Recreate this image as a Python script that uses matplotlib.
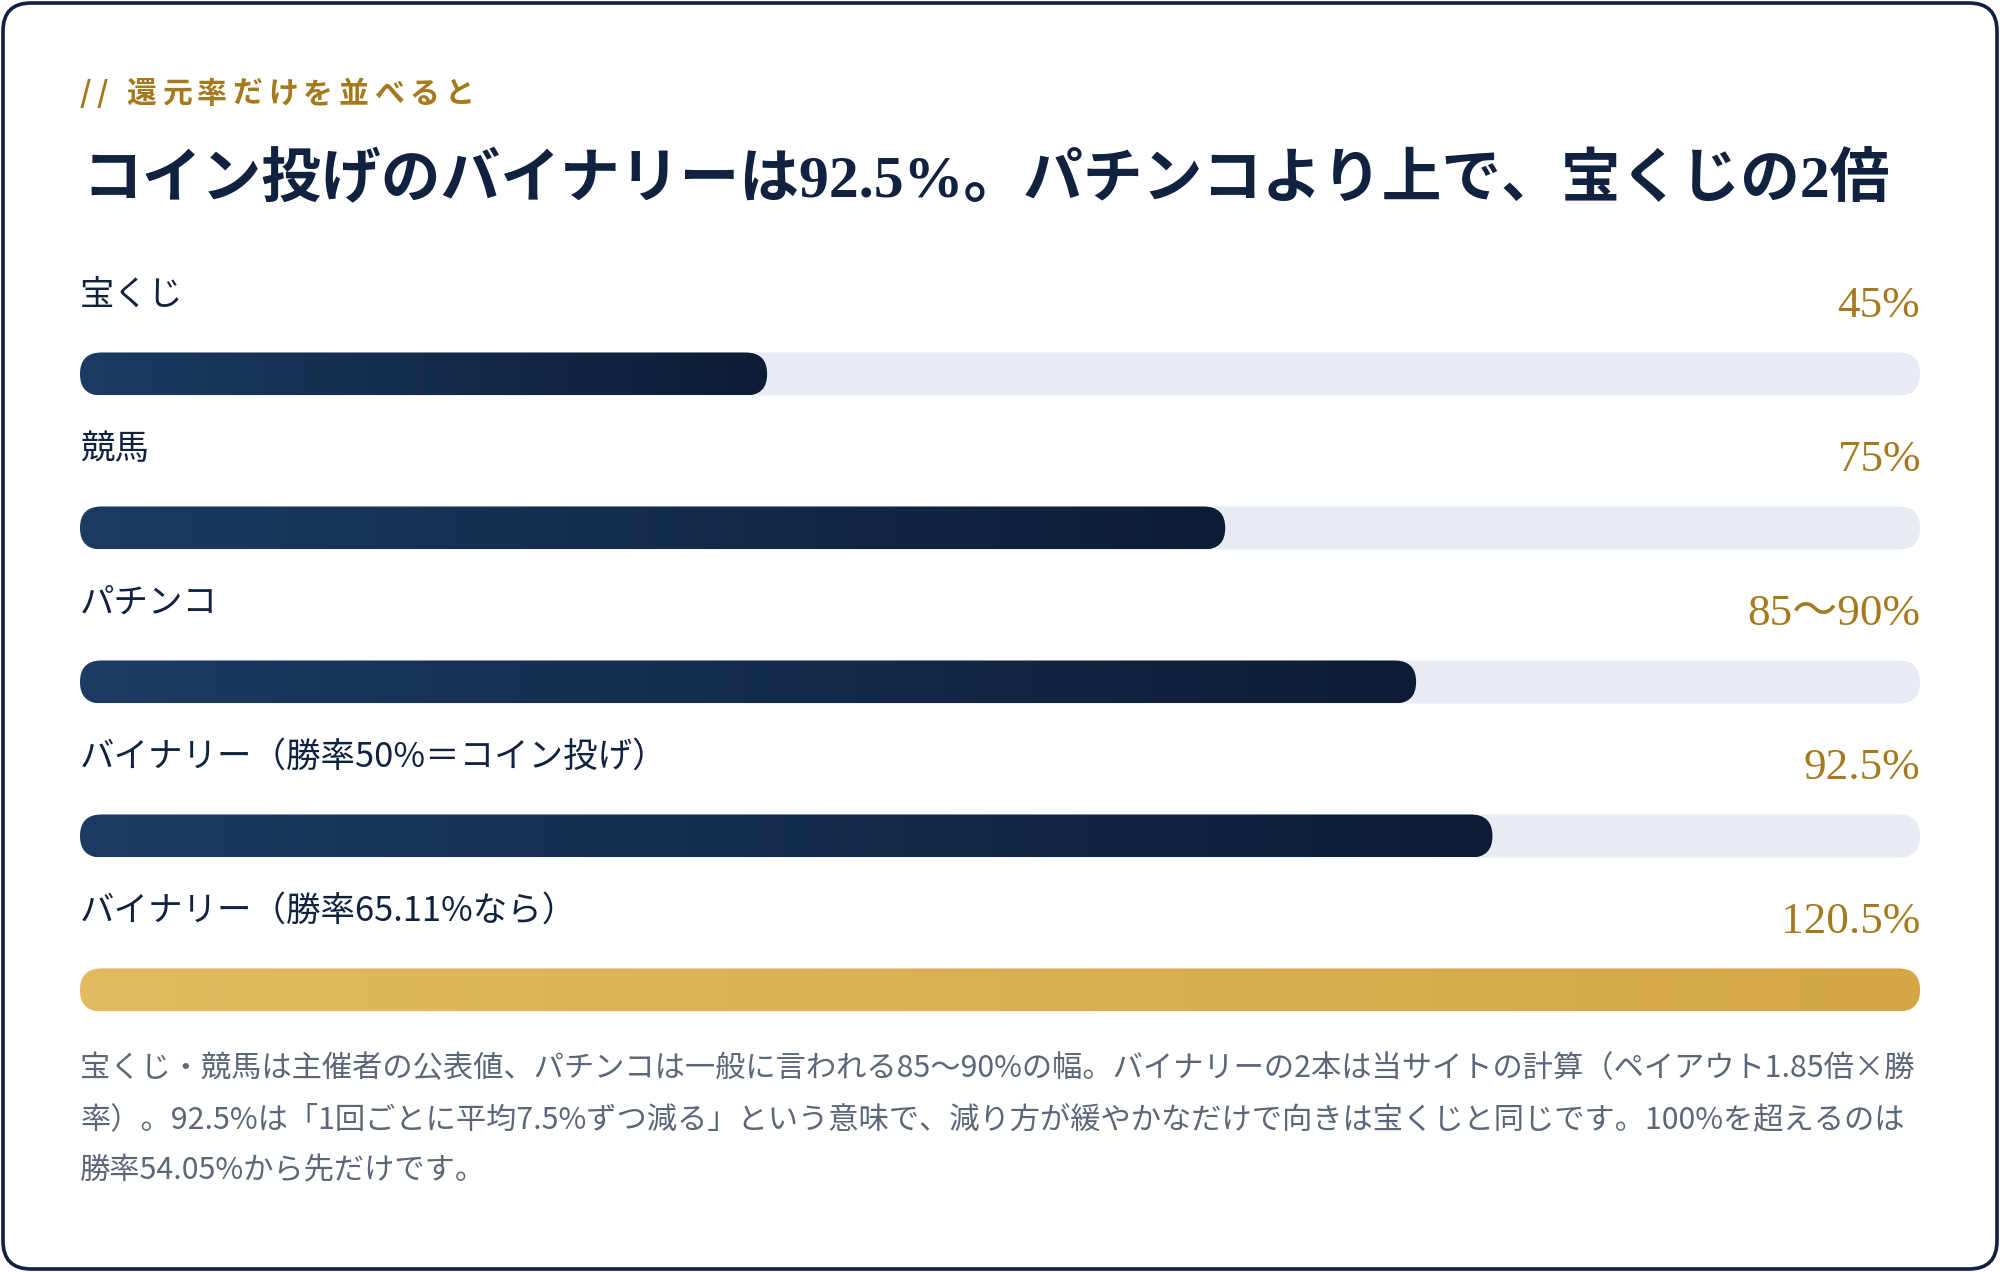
import numpy as np
import matplotlib
matplotlib.use("Agg")
import matplotlib.pyplot as plt
from matplotlib.patches import FancyBboxPatch
from matplotlib.colors import LinearSegmentedColormap

# data
labels = ["宝くじ", "競馬", "パチンコ", "バイナリー（勝率50%＝コイン投げ）", "バイナリー（勝率65.11%なら）"]
values = [45, 75, 87.5, 92.5, 120.5]
value_text = ["45%", "75%", "85～90%", "92.5%", "120.5%"]
highlight = [False, False, False, False, True]
scale_max = 120.5

kicker = "// 還元率だけを並べると"
title = "コイン投げのバイナリーは92.5%。パチンコより上で、宝くじの2倍"
note_lines = [
    "宝くじ・競馬は主催者の公表値、パチンコは一般に言われる85～90%の幅。バイナリーの2本は当サイトの計算（ペイアウト1.85倍×勝",
    "率）。92.5%は「1回ごとに平均7.5%ずつ減る」という意味で、減り方が緩やかなだけで向きは宝くじと同じです。100%を超えるのは",
    "勝率54.05%から先だけです。",
]

NAVY = "#10223f"
GOLD_TXT = "#a57a1f"
TRACK = "#e8ebf3"
sans = ["Noto Sans CJK JP", "DejaVu Sans"]
serif = ["Liberation Serif", "Noto Sans CJK JP"]

W, H = 2000, 1272
fig = plt.figure(figsize=(W / 100, H / 100), dpi=100)
fig.patch.set_facecolor("white")

# background axes in pixel units
ax = fig.add_axes([0, 0, 1, 1])
ax.set_xlim(0, W)
ax.set_ylim(H, 0)
ax.axis("off")

card = FancyBboxPatch((3, 3), W - 6, H - 6, boxstyle="round,pad=0,rounding_size=28",
                      fc="white", ec=NAVY, lw=2.6)
ax.add_patch(card)

# kicker with letter spacing, char by char
renderer = fig.canvas.get_renderer()
x = 80
for ch in kicker:
    t = ax.text(x, 94, ch, fontsize=21.5, fontweight="bold", color=GOLD_TXT,
                family=sans, va="center", ha="left")
    wpx = t.get_window_extent(renderer).width
    x += wpx + 5.5

ax.text(82, 182, title, fontsize=43, fontweight="bold", color=NAVY,
        family=serif, va="center", ha="left")

# bar axes: x in value units, y in pixels
left_px, track_px = 80, 1840
bx = fig.add_axes([left_px / W, 0, track_px / W, 1])
bx.set_xlim(0, scale_max)
bx.set_ylim(H, 0)
bx.axis("off")

row0, row_step = 374, 154
bar_h = 43
r_px = bar_h / 2
r_x = r_px * scale_max / track_px
aspect = track_px / scale_max

navy_cmap = LinearSegmentedColormap.from_list("navy", ["#1b3b62", "#0d1c35"])
gold_cmap = LinearSegmentedColormap.from_list("gold", ["#e3ba5f", "#d4a644"])
grad = np.linspace(0, 1, 256).reshape(1, -1)

for i, (lab, v, vt, hl) in enumerate(zip(labels, values, value_text, highlight)):
    yc = row0 + i * row_step
    y0 = yc - bar_h / 2
    track = FancyBboxPatch((0, y0), scale_max, bar_h,
                           boxstyle=f"round,pad=0,rounding_size={r_x}",
                           mutation_aspect=aspect, fc=TRACK, ec="none", zorder=1)
    bx.add_patch(track)
    bar = FancyBboxPatch((0, y0), v, bar_h,
                         boxstyle=f"round,pad=0,rounding_size={r_x}",
                         mutation_aspect=aspect, fc="none", ec="none", zorder=2)
    bx.add_patch(bar)
    im = bx.imshow(grad, extent=[0, v, y0 + bar_h, y0], aspect="auto",
                   cmap=gold_cmap if hl else navy_cmap, interpolation="bicubic",
                   zorder=3)
    im.set_clip_path(bar)

    bx.text(0, yc - 79, lab, fontsize=24.8, color=NAVY, family=sans,
            va="center", ha="left")
    bx.text(scale_max, yc - 68, vt, fontsize=32.5,
            color=GOLD_TXT, family=serif, va="center", ha="right")

bx.set_xlim(0, scale_max)
bx.set_ylim(H, 0)

for j, line in enumerate(note_lines):
    ax.text(80, 1069 + j * 51, line, fontsize=21.8, color="#5b6678",
            family=sans, va="center", ha="left")

fig.savefig("out.png", dpi=100, facecolor="white")
